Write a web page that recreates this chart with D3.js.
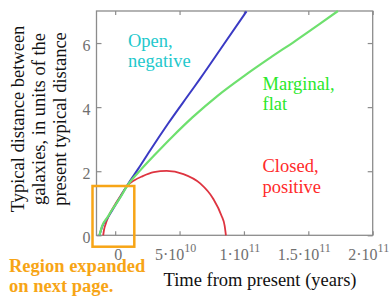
<!DOCTYPE html>
<html lang="en">
<head>
<meta charset="utf-8">
<title>Typical distance between galaxies</title>
<script src="https://cdn.jsdelivr.net/npm/d3@7"></script>
<style>
  body { margin: 0; background: #fff; }
</style>
</head>
<body>
<script>
// time in units of 10^10 years, distance in units of the present distance
var openT = [-1.22, -1.0, -0.6, -0.2, 0.3, 1.0, 1.8, 2.7, 4.1, 5.8, 6.6, 8.4, 10.2];
var openD = [0, 0.28, 0.54, 0.8, 1.13, 1.6, 2.08, 2.64, 3.48, 4.44, 4.89, 5.94, 6.99];

var flatT = [-1.22, -1.0, -0.6, -0.2, 0.3, 1.0, 2.0, 3.0, 4.5, 6.0, 8.0, 10.0, 12.0, 14.0, 16.0, 17.3];
var flatD = [0, 0.3, 0.56, 0.82, 1.12, 1.58, 2.05, 2.48, 3.1, 3.68, 4.37, 4.97, 5.53, 6.07, 6.63, 7.0];

var closedT = [-0.93, -0.86, -0.75, -0.5, -0.1, 0.4, 0.95, 1.5, 2.1, 3.0, 4.0, 5.3, 6.6, 7.6, 8.25, 8.5, 8.6];
var closedD = [0, 0.18, 0.34, 0.6, 0.9, 1.22, 1.55, 1.72, 1.84, 1.97, 2.01, 1.91, 1.62, 1.15, 0.62, 0.3, 0];

var xTicks = [0, 5, 10, 15, 20];
var xTickBase = ["0", "5\u00b710", "1\u00b710", "1.5\u00b710", "2\u00b710"];
var xTickExp = ["", "10", "11", "11", "11"];
var yTicks = [0, 2, 4, 6];

var yTitle = ["Typical distance between", "galaxies, in units of the", "present typical distance"];
var xTitle = "Time from present (years)";
var noteLines = ["Region expanded", "on next page."];

var w = 392, h = 297;
var plotL = 96.5, plotR = 372.7, plotT = 11, plotB = 235.3;
var orange = "#f7a516";
var serif = "'Liberation Serif', 'Times New Roman', Times, serif";

var x = d3.scaleLinear().domain([-1.45, 20]).range([plotL, plotR]);
var y = d3.scaleLinear().domain([0, 7]).range([plotB, plotT]);

var svg = d3.select("body").append("svg")
  .attr("width", w)
  .attr("height", h)
  .style("font-family", serif);

// frame
svg.append("rect")
  .attr("x", plotL).attr("y", plotT)
  .attr("width", plotR - plotL).attr("height", plotB - plotT)
  .attr("fill", "none")
  .attr("stroke", "#8c8c8c")
  .attr("stroke-width", 1.3);

// inward ticks on all four sides
function styleAxis(g) {
  g.select(".domain").remove();
  g.selectAll(".tick line").attr("stroke", "#8c8c8c").attr("stroke-width", 1.2);
}
svg.append("g").attr("transform", "translate(0," + plotB + ")")
  .call(d3.axisBottom(x).tickValues(xTicks).tickSize(-4).tickFormat(""))
  .call(styleAxis);
svg.append("g").attr("transform", "translate(0," + plotT + ")")
  .call(d3.axisTop(x).tickValues(xTicks).tickSize(-4).tickFormat(""))
  .call(styleAxis);
svg.append("g").attr("transform", "translate(" + plotL + ",0)")
  .call(d3.axisLeft(y).tickValues(yTicks).tickSize(-5).tickFormat(""))
  .call(styleAxis);
svg.append("g").attr("transform", "translate(" + plotR + ",0)")
  .call(d3.axisRight(y).tickValues(yTicks).tickSize(-5).tickFormat(""))
  .call(styleAxis);

// tick labels
svg.selectAll(".ylab")
  .data(yTicks)
  .enter().append("text")
  .attr("class", "ylab")
  .attr("x", 90.5)
  .attr("y", function(d) { return y(d) + 7.5; })
  .attr("text-anchor", "end")
  .style("font-family", serif)
  .style("font-size", "16px")
  .attr("fill", "#707070")
  .text(function(d) { return d; });

var xl = svg.selectAll(".xlab")
  .data(xTicks)
  .enter().append("text")
  .attr("class", "xlab")
  .attr("x", function(d) { return x(d) + (d === 0 ? 3 : -4); })
  .attr("y", 260)
  .attr("text-anchor", "middle")
  .style("font-family", serif)
  .style("font-size", "16px")
  .attr("fill", "#707070");
xl.append("tspan").text(function(d, i) { return xTickBase[i]; });
xl.append("tspan")
  .attr("dy", -8)
  .style("font-size", "12px")
  .text(function(d, i) { return xTickExp[i]; });

// curves
var line = d3.line()
  .x(function(d) { return x(d[0]); })
  .y(function(d) { return y(d[1]); })
  .curve(d3.curveMonotoneX);

function pts(t, v) { return t.map(function(d, i) { return [d, v[i]]; }); }

svg.append("path").datum(pts(closedT, closedD))
  .attr("d", line).attr("fill", "none")
  .attr("stroke", "#de3440").attr("stroke-width", 1.8);
svg.append("path").datum(pts(openT, openD))
  .attr("d", line).attr("fill", "none")
  .attr("stroke", "#3a3ac4").attr("stroke-width", 2);
svg.append("path").datum(pts(flatT, flatD))
  .attr("d", line).attr("fill", "none")
  .attr("stroke", "#6ee06e").attr("stroke-width", 2.2);

// curve labels
function label(lines, px, py, col) {
  var t = svg.append("text")
    .style("font-family", serif)
    .style("font-size", "18.5px")
    .attr("fill", col);
  lines.forEach(function(s, i) {
    t.append("tspan").attr("x", px).attr("y", py + i * 20.5).text(s);
  });
}
label(["Open,", "negative"], 128, 46.5, "#22c8cc");
label(["Marginal,", "flat"], 262.5, 89.5, "#2ae82a");
label(["Closed,", "positive"], 262.5, 172, "#ff2a2a");

// axis titles
var yt = svg.append("text")
  .attr("transform", "translate(0,119) rotate(-90)")
  .attr("text-anchor", "middle")
  .style("font-family", serif)
  .style("font-size", "18.5px")
  .attr("fill", "#111");
yTitle.forEach(function(s, i) {
  yt.append("tspan").attr("x", 0).attr("y", 24 + i * 21).text(s);
});

svg.append("text")
  .attr("x", 260).attr("y", 285.5)
  .attr("text-anchor", "middle")
  .style("font-family", serif)
  .style("font-size", "18.5px")
  .attr("fill", "#111")
  .text(xTitle);

// highlighted region and note
svg.append("rect")
  .attr("x", 92.5).attr("y", 186)
  .attr("width", 41.8).attr("height", 60.7)
  .attr("fill", "none")
  .attr("stroke", orange)
  .attr("stroke-width", 2.5);

svg.selectAll(".note")
  .data(noteLines)
  .enter().append("text")
  .attr("class", "note")
  .attr("x", 9)
  .attr("y", function(d, i) { return 271.5 + i * 20; })
  .style("font-family", serif)
  .style("font-size", "18.5px")
  .style("font-weight", "bold")
  .attr("fill", orange)
  .text(function(d) { return d; });
</script>
</body>
</html>
